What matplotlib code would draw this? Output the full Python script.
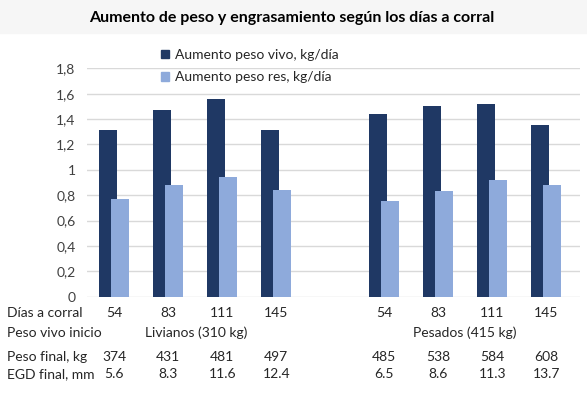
import numpy as np
import matplotlib.pyplot as plt
import matplotlib.transforms as mtrans
from matplotlib.patches import Rectangle, Patch

plt.rcParams['font.family'] = ['Lato', 'DejaVu Sans']

# Datos
dias = ['54', '83', '111', '145', '54', '83', '111', '145']
aumento_vivo = [1.31, 1.47, 1.56, 1.31, 1.44, 1.50, 1.52, 1.35]
aumento_res = [0.77, 0.88, 0.94, 0.84, 0.75, 0.83, 0.92, 0.88]
peso_final = ['374', '431', '481', '497', '485', '538', '584', '608']
egd_final = ['5.6', '8.3', '11.6', '12.4', '6.5', '8.6', '11.3', '13.7']
grupos = ['Livianos (310 kg)', 'Pesados (415 kg)']

color_vivo = '#1f3864'
color_res = '#8eaadb'
color_texto = '#262626'

# posiciones: 4 + hueco + 4
x = np.array([0, 1, 2, 3, 5, 6, 7, 8])
ancho = 0.33
sep = 0.115

fig = plt.figure(figsize=(5.87, 3.95), dpi=100)
fig.patches.append(Rectangle((0, 1 - 33 / 395), 1, 33 / 395, transform=fig.transFigure,
                             color='#f6f6f6', zorder=0))

ax = fig.add_axes([86.7 / 587, 1 - 296.6 / 395, (580 - 86.7) / 587, (296.6 - 68.3) / 395])
ax.bar(x - sep, aumento_vivo, width=ancho, color=color_vivo, zorder=2)
ax.bar(x + sep, aumento_res, width=ancho, color=color_res, zorder=3)

ax.set_xlim(-0.509, 8.626)
ax.set_ylim(0, 1.8)
yt = np.arange(0, 1.81, 0.2)
ax.set_yticks(yt)
ax.set_yticklabels([('%.1f' % v).replace('.', ',').replace(',0', '') for v in yt],
                   fontsize=10, color='#404040')
ax.tick_params(axis='y', length=0, pad=8)
ax.set_xticks([])
ax.grid(axis='y', color='#d9d9d9', linewidth=1, zorder=0)
for s in ax.spines.values():
    s.set_visible(False)

fig.text(0.497, 1 - 18 / 395, 'Aumento de peso y engrasamiento según los días a corral',
         ha='center', va='center', fontsize=11.5, fontweight='bold', color='black')

# leyenda
handles = [Patch(color=color_vivo, label='Aumento peso vivo, kg/día'),
           Patch(color=color_res, label='Aumento peso res, kg/día')]
fig.legend(handles=handles, loc='upper left', bbox_to_anchor=(154 / 587, 1 - 42 / 395),
           frameon=False, fontsize=10, handlelength=0.6, handleheight=0.6,
           handletextpad=0.4, labelspacing=0.75, borderpad=0, labelcolor=color_texto)

# tabla bajo el gráfico
tr = mtrans.blended_transform_factory(ax.transData, fig.transFigure)
filas = [('Días a corral', 313), ('Peso vivo inicio', 333),
         ('Peso final, kg', 357), ('EGD final, mm', 374)]
for nombre, py in filas:
    fig.text(7 / 587, 1 - py / 395, nombre, ha='left', va='center',
             fontsize=10, color=color_texto)

for xi, d, p, e in zip(x, dias, peso_final, egd_final):
    ax.text(xi, 1 - 313 / 395, d, transform=tr, ha='center', va='center', fontsize=10, color=color_texto)
    ax.text(xi, 1 - 357 / 395, p, transform=tr, ha='center', va='center', fontsize=10, color=color_texto)
    ax.text(xi, 1 - 374 / 395, e, transform=tr, ha='center', va='center', fontsize=10, color=color_texto)

ax.text(1.52, 1 - 333 / 395, grupos[0], transform=tr, ha='center', va='center', fontsize=10, color=color_texto)
ax.text(6.5, 1 - 333 / 395, grupos[1], transform=tr, ha='center', va='center', fontsize=10, color=color_texto)

fig.savefig('out.png', dpi=100)
